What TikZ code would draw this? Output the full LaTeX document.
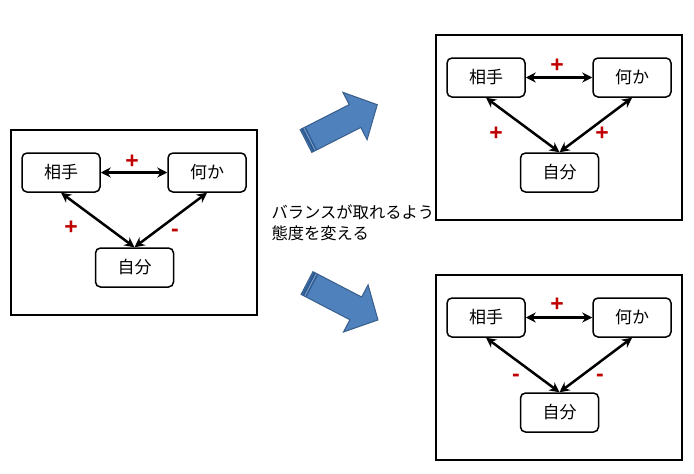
\documentclass[tikz,border=0pt]{standalone}
\usepackage{fontspec}
\setmainfont{Liberation Sans}
\newfontfamily\jpfont{Noto Sans CJK JP}
\usetikzlibrary{arrows.meta}
\definecolor{signred}{HTML}{C00000}
\definecolor{blockfill}{HTML}{4F81BD}
\definecolor{blockline}{HTML}{385D8A}
\definecolor{blockdark}{HTML}{2F5B93}

\begin{document}
\begin{tikzpicture}[x=1pt,y=-1pt,
  frame/.style={draw,line width=2pt},
  item/.style={draw,line width=1.5pt,rounded corners=5pt,minimum width=78pt,minimum height=39pt,font=\jpfont\fontsize{17}{18}\selectfont},
  link/.style={{Stealth[length=10pt,width=10pt]}-{Stealth[length=10pt,width=10pt]},line width=2.5pt},
  sign/.style={text=signred,font=\bfseries\fontsize{23}{23}\selectfont},
  block/.style={fill=blockfill,draw=blockline,line width=1pt}]
\useasboundingbox (0,0) rectangle (694,474);
% left
\draw[frame] (11,130) rectangle (257,315);
\node[item] (a1) at (61,172.5) {相手};
\node[item] (b1) at (207,172.5) {何か};
\node[item] (c1) at (134.5,267.5) {自分};
\draw[link] (a1.east) -- (b1.west);
\draw[link] (a1.south) -- (c1.north);
\draw[link] (b1.south) -- (c1.north);
\node[sign] (s11) at (132,162) {+};
\node[sign] (s12) at (71,228) {+};
\node[sign] (s13) at (175,233) {-};
% upper right
\draw[frame] (436,35) rectangle (682,220);
\node[item] (a2) at (486,77.5) {相手};
\node[item] (b2) at (632,77.5) {何か};
\node[item] (c2) at (559.5,172.5) {自分};
\draw[link] (a2.east) -- (b2.west);
\draw[link] (a2.south) -- (c2.north);
\draw[link] (b2.south) -- (c2.north);
\node[sign] (s21) at (557,66) {+};
\node[sign] (s22) at (496,134) {+};
\node[sign] (s23) at (602,134) {+};
% lower right
\draw[frame] (436,275) rectangle (682,460);
\node[item] (a3) at (486,317.5) {相手};
\node[item] (b3) at (632,317.5) {何か};
\node[item] (c3) at (559.5,412.5) {自分};
\draw[link] (a3.east) -- (b3.west);
\draw[link] (a3.south) -- (c3.north);
\draw[link] (b3.south) -- (c3.north);
\node[sign] (s31) at (557,305) {+};
\node[sign] (s32) at (516,378) {-};
\node[sign] (s33) at (600,378) {-};
% block arrows
\begin{scope}[shift={(306,141)},rotate=27]
\draw[block] (0,-12.8) -- (55,-12.8) -- (55,-26.6) -- (80,0) -- (55,26.6) -- (55,12.8) -- (0,12.8) -- cycle;
\fill[blockdark] (1,-12.3) rectangle (6,12.3);
\draw[blockfill!70!white,line width=0.8pt] (4,-12.3) -- (4,12.3);
\end{scope}
\begin{scope}[shift={(307,283)},rotate=-27.5]
\draw[block] (0,-12.8) -- (55,-12.8) -- (55,-26.6) -- (80,0) -- (55,26.6) -- (55,12.8) -- (0,12.8) -- cycle;
\fill[blockdark] (1,-12.3) rectangle (6,12.3);
\draw[blockfill!70!white,line width=0.8pt] (4,-12.3) -- (4,12.3);
\end{scope}
% text
\node[anchor=west,align=left,font=\jpfont\fontsize{16.3}{21}\selectfont] (note) at (268,223) {バランスが取れるよう\\態度を変える};
\end{tikzpicture}
\end{document}
